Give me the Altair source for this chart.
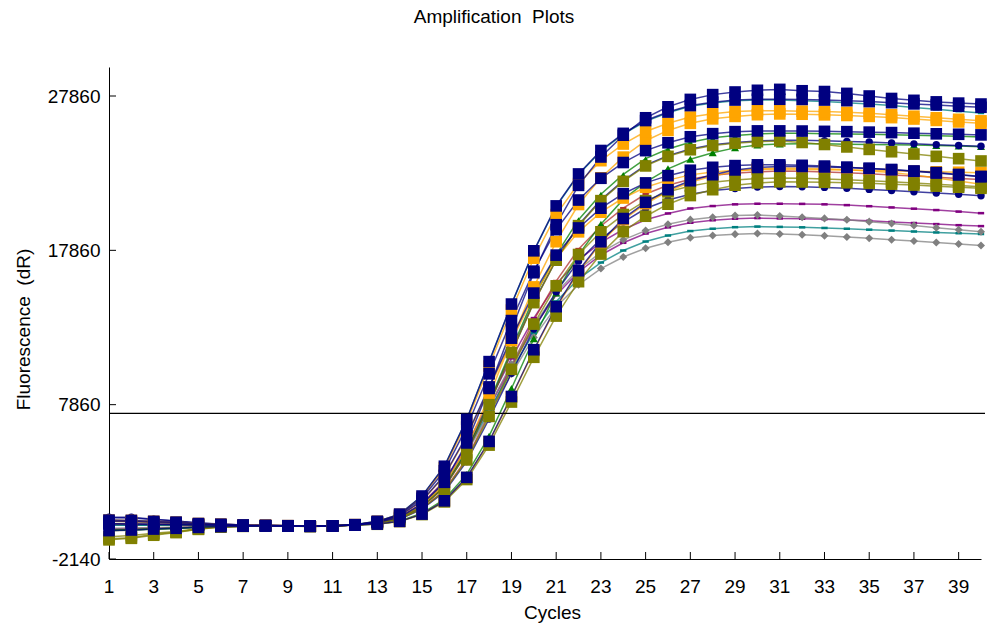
import altair as alt
import pandas as pd

cycles = list(range(1, 41))
x_tick_values = list(range(1, 40, 2))
y_tick_values = [-2140, 7860, 17860, 27860]
threshold = [7300]

# --- series values (cycles 1..40) ---
s01_navy = [380,360,300,250,160,110,60,40,20,-10,0,60, 230,570,1410,2830,5380,8910,12730,16410,19520,22070,23910,25320,26450,27160,27640,27950,28120,28230, 28290,28200,28150,28030,27860,27700,27580,27480,27400,27340]
s02_navy = [150,130,110,90,60,40,20,10,0,-20,10,80, 300,770,1940,3870,6910,10650,14380,17830,20740,22810,24330,25440,26270,26820,27240,27460,27600,27650, 27650,27640,27600,27560,27500,27430,27350,27280,27200,27130]
s03_teal = [60,50,40,40,30,20,10,0,0,-10,20,90, 300,770,1930,3860,6900,10630,14350,17800,20700,22770,24290,25390,26220,26770,27190,27410,27550,27600, 27600,27560,27500,27430,27350,27250,27120,27000,26880,26760]
s04_orange = [380,360,300,250,160,110,60,40,20,-10,0,60, 300,750,1880,3770,6730,10360,13990,17350,20180,22190,23670,24750,25560,26090,26500,26710,26850,26900, 26900,26880,26850,26800,26740,26650,26550,26450,26350,26250]
s05_orange = [300,290,240,200,130,90,50,30,10,-10,0,80, 210,530,1340,2670,5070,8410,12020,15490,18420,20830,22560,23900,24960,25630,26090,26380,26540,26650, 26700,26680,26640,26600,26540,26460,26370,26280,26180,26100]
s06_navy = [300,290,240,200,130,90,50,30,10,-10,0,80, 280,720,1790,3580,6400,9860,13310,16510,19200,21120,22530,23550,24320,24830,25220,25420,25550,25600, 25600,25590,25570,25550,25520,25490,25450,25410,25380,25340]
s07_green = [-280,-240,-190,-140,-80,-40,-10,0,0,-20,10,70, 120,320,820,1730,3340,5820,8910,12130,15100,17570,19550,21160,22280,23140,23760,24180,24500,24680, 24750,24760,24760,24740,24720,24700,24680,24650,24620,24580]
s08_navy_dot = [570,560,440,330,200,120,60,40,20,-10,0,60, 200,500,1250,2500,4750,7880,11250,14500,17250,19500,21130,22380,23380,24000,24430,24700,24850,24950, 25000,24990,24960,24920,24880,24820,24760,24700,24650,24600]
s09_olive = [-900,-800,-600,-430,-220,-70,-20,0,0,-30,0,60, 200,500,1250,2500,4740,7860,11230,14470,17220,19460,21080,22330,23330,23950,24380,24650,24800,24900, 24950,24850,24720,24560,24400,24250,24100,23950,23800,23650]
s10_green = [-300,-260,-200,-150,-90,-40,-10,0,0,-20,10,70, 200,510,1270,2550,4840,8020,11450,14760,17560,19850,21500,22780,23800,24430,24870,25150,25300,25400, 25450,25440,25420,25400,25380,25350,25320,25280,25250,25200]
s11_navy = [150,130,110,90,60,40,20,10,0,-20,10,80, 260,660,1640,3280,5850,9010,12170,15090,17550,19310,20590,21530,22230,22700,23050,23240,23350,23400, 23400,23370,23320,23250,23170,23080,22980,22870,22750,22630]
s12_orange = [300,290,240,200,130,90,50,30,10,-10,0,80, 250,650,1620,3230,5780,8890,12010,14900,17330,19060,20330,21250,21950,22410,22750,22940,23050,23100, 23100,23100,23090,23070,23040,23010,22980,22950,22920,22890]
s13_olive = [-700,-620,-470,-350,-170,-50,-10,0,0,-20,10,70, 180,450,1130,2260,4280,7100,10150,13080,15560,17590,19060,20180,21080,21650,22030,22280,22420,22510, 22550,22530,22490,22430,22370,22300,22220,22140,22060,21980]
s14_orange = [150,130,110,90,60,40,20,10,0,-20,10,80, 120,300,770,1620,3130,5450,8350,11370,14150,16470,18330,19840,20880,21690,22270,22670,22970,23130, 23200,23180,23140,23080,23000,22900,22750,22550,22350,22150]
s15_navy = [-300,-260,-200,-150,-90,-40,-10,0,0,-20,10,70, 120,300,770,1630,3150,5480,8390,11420,14210,16540,18410,19920,20970,21790,22370,22760,23070,23230, 23300,23290,23260,23220,23170,23100,23000,22900,22780,22650]
s16_red = [-250,-220,-170,-120,-70,-30,-10,0,0,-20,10,70, 180,460,1150,2300,4370,7250,10350,13340,15870,17940,19440,20590,21510,22080,22470,22720,22860,22950, 23000,22980,22940,22880,22820,22750,22680,22600,22520,22450]
s18_olive = [-820,-760,-540,-400,-200,-60,-20,0,0,-30,0,60, 110,290,740,1560,3010,5240,8030,10930,13600,15830,17620,19070,20070,20850,21410,21790,22080,22230, 22300,22290,22270,22240,22200,22150,22090,22020,21950,21880]
s19_navy_dot = [540,520,420,320,190,110,60,40,20,-10,0,60, 180,440,1100,2200,4180,6930,9900,12760,15180,17160,18590,19690,20570,21120,21490,21740,21870,21960, 22000,21980,21940,21880,21810,21740,21660,21580,21490,21400]
s20_purple = [-200,-170,-130,-100,-60,-30,-10,0,0,-20,10,70, 230,580,1460,2920,5220,8040,10860,13470,15660,17230,18370,19210,19840,20250,20570,20730,20840,20880, 20880,20870,20840,20790,20720,20640,20560,20470,20370,20270]
s21_gray = [-320,-280,-210,-160,-90,-40,-10,0,0,-20,10,70, 220,560,1410,2820,5040,7760,10480,13000,15110,16620,17730,18540,19140,19550,19850,20010,20110,20150, 20080,20000,19930,19840,19720,19600,19470,19330,19200,19070]
s22_purple = [60,50,40,40,30,20,10,0,0,-10,20,90, 220,560,1400,2790,4990,7680,10370,12870,14960,16460,17560,18350,18950,19350,19650,19810,19910,19950, 19930,19910,19880,19830,19770,19700,19630,19560,19490,19430]
s23_teal = [80,70,60,50,40,20,10,0,0,-10,20,90, 210,540,1360,2720,4850,7470,10090,12510,14550,16010,17070,17850,18430,18820,19110,19260,19360,19400, 19380,19350,19310,19260,19200,19140,19080,19020,18970,18920]
s24_gray = [-150,-130,-100,-80,-50,-20,-10,0,0,-20,10,70, 210,530,1330,2650,4740,7300,9850,12220,14210,15630,16680,17430,18000,18380,18670,18820,18910,18950, 18920,18870,18800,18720,18640,18550,18460,18370,18270,18170]

# --- styles (drawing order: first drawn at the bottom) ---
DASH = "M-1,-0.4L1,-0.4L1,0.4L-1,0.4Z"
styles = {
    "square": ("square", 135),
    "circle": ("circle", 55),
    "triangle": ("triangle-up", 65),
    "smalltri": ("triangle-up", 30),
    "diamond": ("diamond", 65),
    "dash": (DASH, 40),
}
series = [
    ("S20", s20_purple, "#800080", "dash"),
    ("S22", s22_purple, "#800080", "dash"),
    ("S16", s16_red, "#B03030", "dash"),
    ("S03", s03_teal, "#008080", "dash"),
    ("S23", s23_teal, "#008080", "dash"),
    ("S21", s21_gray, "#808080", "diamond"),
    ("S24", s24_gray, "#808080", "diamond"),
    ("S10", s10_green, "#008000", "smalltri"),
    ("S07", s07_green, "#008000", "triangle"),
    ("S08", s08_navy_dot, "#000080", "circle"),
    ("S19", s19_navy_dot, "#000080", "circle"),
    ("S05", s05_orange, "#FFA500", "square"),
    ("S04", s04_orange, "#FFA500", "square"),
    ("S12", s12_orange, "#FFA500", "square"),
    ("S14", s14_orange, "#FFA500", "square"),
    ("S09", s09_olive, "#808000", "square"),
    ("S13", s13_olive, "#808000", "square"),
    ("S18", s18_olive, "#808000", "square"),
    ("S01", s01_navy, "#000080", "square"),
    ("S02", s02_navy, "#000080", "square"),
    ("S06", s06_navy, "#000080", "square"),
    ("S11", s11_navy, "#000080", "square"),
    ("S15", s15_navy, "#000080", "square"),
]

rows = []
for name, vals, color, st in series:
    shp, sz = styles[st]
    for c, v in zip(cycles, vals):
        rows.append({"series": name, "cycle": c, "dR": v, "color": color, "shape": shp, "size": sz})
df = pd.DataFrame(rows)

W, H = 872, 492
FONT = "Liberation Sans"
FS = 19
xs = alt.Scale(domain=[1, 40], nice=False, zero=False)
ys = alt.Scale(domain=[-2140, 29740], nice=False, zero=False)
x_axis = alt.Axis(
    values=x_tick_values, ticks=False, tickSize=0, grid=False, labels=False,
    domainColor="black", domainWidth=1,
    title="Cycles", titleFont=FONT, titleFontSize=FS, titleFontWeight="normal", titleColor="black",
    titleX=443, titleY=59, titleBaseline="alphabetic", titleAlign="center")
y_axis = alt.Axis(
    values=y_tick_values, ticks=False, tickSize=0, grid=False, labelPadding=9,
    labelExpr="'' + datum.value",
    labelFontSize=FS, labelFont=FONT, labelColor="black", domainColor="black", domainWidth=1,
    title="Fluorescence\u00a0 (dR)", titleFont=FONT, titleFontSize=FS, titleFontWeight="normal",
    titleColor="black", titleX=-80, titleY=262, titleAngle=270, titleBaseline="alphabetic",
    titleAlign="center")
X = alt.X("cycle:Q", scale=xs, axis=x_axis, title="Cycles")
Y = alt.Y("dR:Q", scale=ys, axis=y_axis, title="Fluorescence\u00a0 (dR)")

base = alt.Chart(df)
lines = base.mark_line(strokeWidth=1.5, opacity=0.75).encode(
    x=X, y=Y, color=alt.Color("color:N", scale=None), detail="series:N")
points = base.mark_point(filled=True, opacity=1, strokeWidth=0).encode(
    x=X, y=Y,
    color=alt.Color("color:N", scale=None),
    shape=alt.Shape("shape:N", scale=None),
    size=alt.Size("size:Q", scale=None),
)
thr = alt.Chart(pd.DataFrame({"dR": threshold})).mark_rule(color="black", strokeWidth=1.2).encode(
    y=Y, x=alt.value(0), x2=alt.value(W + 4))
tick_df = pd.DataFrame({"cycle": x_tick_values})
xt = alt.Chart(tick_df).mark_rule(color="black", strokeWidth=1).encode(
    x=X, y=alt.value(H), y2=alt.value(H - 7))
xl = alt.Chart(tick_df).mark_text(font=FONT, fontSize=FS, color="black", baseline="alphabetic",
                                  align="center").encode(
    x=X, y=alt.value(H + 34), text="cycle:Q")
yt = alt.Chart(pd.DataFrame({"dR": y_tick_values})).mark_rule(color="black", strokeWidth=1).encode(
    y=Y, x=alt.value(0), x2=alt.value(7))

chart = alt.layer(lines, thr, points, xt, xl, yt).properties(
    width=W, height=H,
    autosize=alt.AutoSizeParams(type="none"),
    padding={"left": 109, "top": 67, "right": 6, "bottom": 67},
    background="white",
    title=alt.TitleParams("Amplification\u00a0 Plots", anchor="middle", dx=-51, offset=25,
                          font=FONT, fontSize=FS, fontWeight="normal", color="black",
                          baseline="alphabetic"),
).configure_view(stroke=None)

chart.save("out.html", embed_options={"renderer": "svg", "actions": False})
